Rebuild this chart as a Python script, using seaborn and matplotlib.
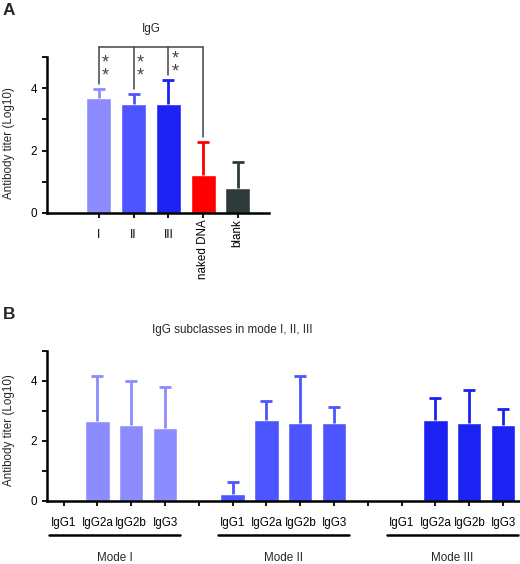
import numpy as np
import pandas as pd
import matplotlib
matplotlib.use("Agg")
import matplotlib.pyplot as plt
import matplotlib.transforms as mtrans
import seaborn as sns

# ---------------- data ----------------
a_groups = ["I", "II", "III", "naked DNA", "blank"]
a_values = [3.68, 3.49, 3.50, 1.21, 0.80]
a_err = [0.29, 0.33, 0.76, 1.07, 0.83]
a_colors = ["#8c8cff", "#4c55ff", "#1c22f2", "#ff0000", "#2d3b3b"]

b_modes = ["Mode I", "Mode II", "Mode III"]
b_subclasses = ["IgG1", "IgG2a", "IgG2b", "IgG3"]
b_values_mode1 = [0.0, 2.65, 2.54, 2.42]
b_values_mode2 = [0.21, 2.68, 2.60, 2.58]
b_values_mode3 = [0.0, 2.68, 2.60, 2.52]
b_err_mode1 = [0.0, 1.52, 1.46, 1.37]
b_err_mode2 = [0.42, 0.64, 1.57, 0.53]
b_err_mode3 = [0.0, 0.76, 1.08, 0.55]
b_colors = ["#8c8cff", "#4c55ff", "#1c22f2"]

yticks = [0, 1, 2, 3, 4, 5]
ytick_labels = ["0", "", "2", "", "4", ""]

# ---------------- style ----------------
sns.set_theme(style="ticks")
plt.rcParams["font.family"] = ["Liberation Sans", "DejaVu Sans"]
FS = 8.4
W, H = 520, 564
fig = plt.figure(figsize=(W / 100, H / 100), dpi=100)


def px(x0, y0, x1, y1):
    return [x0 / W, 1 - y1 / H, (x1 - x0) / W, (y1 - y0) / H]


def style_axes(ax):
    for s in ["top", "right"]:
        ax.spines[s].set_visible(False)
    for s in ["left", "bottom"]:
        ax.spines[s].set_linewidth(1.8)
        ax.spines[s].set_color("black")
    ax.tick_params(axis="both", direction="out", length=3.5, width=1.3,
                   color="black", labelsize=FS, labelcolor="black")
    ax.set_ylim(0, 5)
    ax.set_yticks(yticks, ytick_labels)
    ax.set_xlabel("")
    ax.set_ylabel("")


def upper_err(ax, x, v, e, c):
    cont = ax.errorbar(x, v, yerr=[[0], [e]], fmt="none", ecolor=c,
                       elinewidth=2, capsize=4.5, capthick=2, zorder=3)
    caps = cont.lines[1]
    if len(caps) == 2:
        caps[0].set_visible(False)


# ---------------- panel A ----------------
axA = fig.add_axes(px(46.7, 57.3, 269, 212.7))
dfA = pd.DataFrame({"group": a_groups, "value": a_values})
sns.barplot(data=dfA, x="group", y="value", hue="group", order=a_groups,
            hue_order=a_groups, palette=a_colors, width=0.72, saturation=1,
            errorbar=None, legend=False, ax=axA)
for i, (v, e, c) in enumerate(zip(a_values, a_err, a_colors)):
    upper_err(axA, i, v, e, c)
axA.set_xlim(-1.5, 4.9)
style_axes(axA)
axA.set_xticks(range(len(a_groups)))
axA.set_xticklabels(a_groups)
axA.tick_params(axis="x", pad=8)
for lab in axA.get_xticklabels():
    if len(lab.get_text()) > 3:
        lab.set_rotation(90)
        lab.set_va("top")
        lab.set_ha("center")
        lab.set_transform(lab.get_transform() +
                          mtrans.ScaledTranslation(0, 7 / 72, fig.dpi_scale_trans))

# significance bracket
br_y = 5.32
bc = "#444444"
axA.plot([0, 3], [br_y, br_y], color=bc, lw=1.1, clip_on=False)
for i in [0, 1, 2, 3]:
    top = a_values[i] + a_err[i] + 0.17
    axA.plot([i, i], [top, br_y], color=bc, lw=1.1, clip_on=False)
star_centers = {0: 4.71, 1: 4.71, 2: 4.85}
for i, yc in star_centers.items():
    axA.text(i + 0.2, yc - 0.1, "*\n*", ha="center", va="center",
             fontsize=13, linespacing=0.68, color=bc, clip_on=False)

fig.text(151 / W, 1 - 29 / H, "IgG", ha="center", va="center", fontsize=FS)
fig.text(9 / W, 1 - 143 / H, "Antibody titer (Log10)", rotation=90,
         ha="center", va="center", fontsize=FS)
fig.text(3 / W, 1 - 3 / H, "A", ha="left", va="top", fontsize=12.4,
         fontweight="bold")

# ---------------- panel B ----------------
axB = fig.add_axes(px(46.7, 350.7, 520, 500.7))
order, labels, vals, errs, cols = [], [], [], [], []
mode_vals = [b_values_mode1, b_values_mode2, b_values_mode3]
mode_errs = [b_err_mode1, b_err_mode2, b_err_mode3]
rows = []
for m, mode in enumerate(b_modes):
    for s, sub in enumerate(b_subclasses):
        key = f"{mode}-{sub}"
        order.append(key)
        labels.append(sub)
        rows.append({"key": key, "mode": mode, "value": mode_vals[m][s]})
        errs.append(mode_errs[m][s])
        vals.append(mode_vals[m][s])
        cols.append(b_colors[m])
    if m < len(b_modes) - 1:
        order.append(f"gap{m}")
        labels.append("")
        errs.append(0)
        vals.append(0)
        cols.append("none")
dfB = pd.DataFrame(rows)
sns.barplot(data=dfB, x="key", y="value", hue="mode", order=order,
            hue_order=b_modes, palette=b_colors, width=0.72, saturation=1,
            errorbar=None, legend=False, dodge=False, ax=axB)
for i, (v, e, c) in enumerate(zip(vals, errs, cols)):
    if e > 0:
        upper_err(axB, i, v, e, c)
axB.set_xlim(-0.5, 13.5)
style_axes(axB)
axB.set_xticks(range(len(order)))
axB.set_xticklabels(labels)
axB.tick_params(axis="x", pad=8)

trans = mtrans.blended_transform_factory(axB.transData, axB.transAxes)
start = 0
for m, mode in enumerate(b_modes):
    x0, x1 = start - 0.42, start + 3.43
    axB.plot([x0, x1], [-0.229, -0.229], color="black", lw=1.8,
             transform=trans, clip_on=False)
    axB.text((x0 + x1) / 2, -0.38, mode, transform=trans, ha="center",
             va="center", fontsize=FS)
    start += 5

fig.text(232 / W, 1 - 330 / H, "IgG subclasses in mode I, II, III",
         ha="center", va="center", fontsize=FS)
fig.text(9 / W, 1 - 430 / H, "Antibody titer (Log10)", rotation=90,
         ha="center", va="center", fontsize=FS)
fig.text(3 / W, 1 - 307 / H, "B", ha="left", va="top", fontsize=12.4,
         fontweight="bold")

fig.savefig("out.png", dpi=100)
